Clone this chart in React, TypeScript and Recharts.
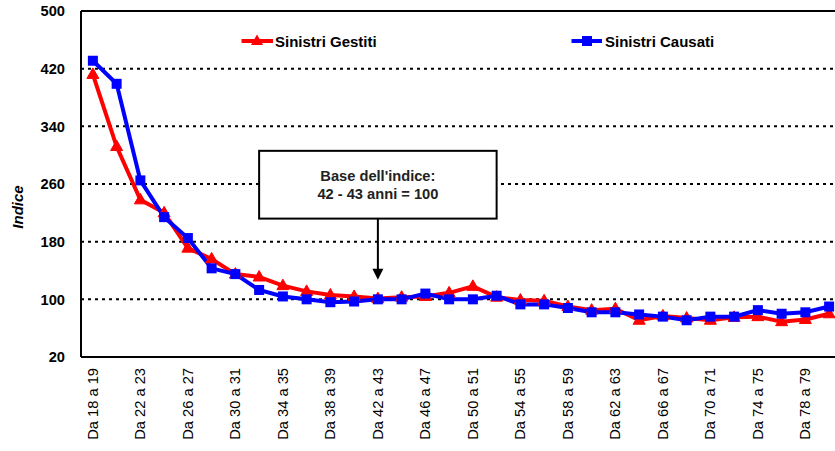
import React from 'react';
import { LineChart, Line, XAxis, YAxis, CartesianGrid, Legend, ReferenceLine } from 'recharts';

const categories = [
  'Da 18 a 19', 'Da 20 a 21', 'Da 22 a 23', 'Da 24 a 25', 'Da 26 a 27', 'Da 28 a 29',
  'Da 30 a 31', 'Da 32 a 33', 'Da 34 a 35', 'Da 36 a 37', 'Da 38 a 39', 'Da 40 a 41',
  'Da 42 a 43', 'Da 44 a 45', 'Da 46 a 47', 'Da 48 a 49', 'Da 50 a 51', 'Da 52 a 53',
  'Da 54 a 55', 'Da 56 a 57', 'Da 58 a 59', 'Da 60 a 61', 'Da 62 a 63', 'Da 64 a 65',
  'Da 66 a 67', 'Da 68 a 69', 'Da 70 a 71', 'Da 72 a 73', 'Da 74 a 75', 'Da 76 a 77',
  'Da 78 a 79', 'Da 80 a 81',
];

const sinistriGestiti = [
  412, 312, 238, 220, 171, 156, 135, 131, 119, 111, 106, 104,
  101, 103, 104, 109, 118, 103, 99, 98, 90, 85, 87, 71,
  77, 74, 71, 75, 76, 69, 72, 80,
];

const sinistriCausati = [
  431, 399, 265, 214, 185, 143, 135, 113, 104, 100, 96, 97,
  100, 100, 108, 100, 100, 105, 93, 93, 88, 82, 82, 79,
  76, 71, 76, 76, 85, 80, 82, 90,
];

const yTicks = [20, 100, 180, 260, 340, 420, 500];
const seriesNames = ['Sinistri Gestiti', 'Sinistri Causati'];
const annotationLines = ["Base dell'indice:", '42 - 43 anni = 100'];
const baseCategory = 'Da 42 a 43';
const boxFrom = 'Da 32 a 33';
const boxTo = 'Da 52 a 53';

const data = categories.map((c, i) => ({
  cat: c,
  gestiti: sinistriGestiti[i],
  causati: sinistriCausati[i],
}));

const FONT = '"Liberation Sans", Arial, Helvetica, sans-serif';
const RED = '#FF0000';
const BLUE = '#0000FF';

const TriangleDot = (props: any) => {
  const { cx, cy } = props;
  if (cx == null || cy == null) return null;
  return (
    <polygon
      points={`${cx},${cy - 6.5} ${cx - 6},${cy + 4} ${cx + 6},${cy + 4}`}
      fill={RED}
      stroke={RED}
      strokeWidth={1}
    />
  );
};

const SquareDot = (props: any) => {
  const { cx, cy } = props;
  if (cx == null || cy == null) return null;
  return <rect x={cx - 5} y={cy - 5} width={10} height={10} fill={BLUE} />;
};

const XTick = (props: any) => {
  const { x, y, payload } = props;
  return (
    <text
      x={x}
      y={y}
      transform={`rotate(-90 ${x} ${y})`}
      textAnchor="end"
      dominantBaseline="central"
      fontSize={14.67}
      fontFamily={FONT}
      fill="#000"
    >
      {payload.value}
    </text>
  );
};

const LegendBox = () => (
  <div style={{ position: 'relative', width: 850, height: 60, fontFamily: FONT }}>
    <svg style={{ position: 'absolute', left: 240, top: 34 }} width={36} height={14}>
      <line x1={1.5} y1={7} x2={33} y2={7} stroke={RED} strokeWidth={4} />
      <polygon points="17,0.5 11,11 23,11" fill={RED} />
    </svg>
    <span
      style={{
        position: 'absolute', left: 275, top: 33, fontSize: 15, fontWeight: 'bold',
        lineHeight: '18px', whiteSpace: 'nowrap', color: '#000',
      }}
    >
      {seriesNames[0]}
    </span>
    <svg style={{ position: 'absolute', left: 570, top: 34 }} width={36} height={14}>
      <line x1={1.5} y1={7} x2={32} y2={7} stroke={BLUE} strokeWidth={4} />
      <rect x={12} y={2} width={10} height={10} fill={BLUE} />
    </svg>
    <span
      style={{
        position: 'absolute', left: 605, top: 33, fontSize: 15, fontWeight: 'bold',
        lineHeight: '18px', whiteSpace: 'nowrap', color: '#000',
      }}
    >
      {seriesNames[1]}
    </span>
  </div>
);

const AnnotationShape = (props: any) => {
  const { x1, y1, x2, y2 } = props;
  const left = Math.min(x1, x2);
  const top = Math.min(y1, y2);
  const w = Math.abs(x2 - x1);
  const h = Math.abs(y2 - y1);
  const cx = left + w / 2;
  const cy = top + h / 2;
  return (
    <g>
      <rect x={left} y={top} width={w} height={h} fill="#fff" stroke="#000" strokeWidth={2} />
      <text x={cx} y={cy - 9} textAnchor="middle" dominantBaseline="central" fontSize={14.67}
        fontWeight="bold" fontFamily={FONT} fill="#222">
        {annotationLines[0]}
      </text>
      <text x={cx} y={cy + 9} textAnchor="middle" dominantBaseline="central" fontSize={14.67}
        fontWeight="bold" fontFamily={FONT} fill="#222">
        {annotationLines[1]}
      </text>
    </g>
  );
};

const ArrowShape = (props: any) => {
  const { x1, y1, y2 } = props;
  const top = Math.min(y1, y2);
  const bottom = Math.max(y1, y2);
  const x = x1;
  return (
    <g>
      <line x1={x} y1={top} x2={x} y2={bottom - 9} stroke="#000" strokeWidth={2} />
      <polygon points={`${x - 5.5},${bottom - 11} ${x + 5.5},${bottom - 11} ${x},${bottom}`} fill="#000" />
    </g>
  );
};

export default function App() {
  return (
    <div style={{ position: 'fixed', left: 0, top: 0, width: 835, height: 451, overflow: 'hidden', background: '#fff' }}>
      <LineChart
        width={850}
        height={451}
        data={data}
        margin={{ top: 11, right: 9, bottom: 0, left: 0 }}
      >
        <CartesianGrid
          vertical={false}
          stroke="#000"
          strokeWidth={2}
          strokeDasharray="3 4"
        />
        <XAxis
          dataKey="cat"
          interval={1}
          height={94}
          padding={{ left: 11.875, right: 11.875 }}
          tick={<XTick />}
          tickLine={false}
          tickSize={0}
          tickMargin={11}
          axisLine={{ stroke: '#000', strokeWidth: 2 }}
        />
        <YAxis
          width={81}
          domain={[20, 500]}
          ticks={yTicks}
          allowDataOverflow
          tickLine={false}
          tickSize={0}
          tickMargin={16}
          axisLine={{ stroke: '#000', strokeWidth: 2 }}
          tick={{ fontSize: 14.67, fontWeight: 'bold', fill: '#000', fontFamily: FONT }}
          label={{
            content: () => (
              <text
                x={17}
                y={207}
                transform="rotate(-90 17 207)"
                textAnchor="middle"
                dominantBaseline="central"
                fontSize={15}
                fontWeight="bold"
                fontStyle="italic"
                fontFamily={FONT}
                fill="#000"
              >
                Indice
              </text>
            ),
          }}
        />
        <ReferenceLine y={500} stroke="#000" strokeWidth={2} ifOverflow="visible" />
        <ReferenceLine
          ifOverflow="visible"
          segment={[{ x: boxFrom, y: 306 }, { x: boxTo, y: 212 }]}
          shape={<AnnotationShape />}
        />
        <ReferenceLine
          ifOverflow="visible"
          segment={[{ x: baseCategory, y: 212 }, { x: baseCategory, y: 127 }]}
          shape={<ArrowShape />}
        />
        <Legend
          layout="horizontal"
          verticalAlign="middle"
          align="center"
          wrapperStyle={{ left: 0, top: 0, width: 850, height: 60 }}
          content={() => <LegendBox />}
        />
        <Line
          type="linear"
          dataKey="gestiti"
          name={seriesNames[0]}
          stroke={RED}
          strokeWidth={4}
          dot={<TriangleDot />}
          activeDot={false}
          isAnimationActive={false}
        />
        <Line
          type="linear"
          dataKey="causati"
          name={seriesNames[1]}
          stroke={BLUE}
          strokeWidth={4}
          dot={<SquareDot />}
          activeDot={false}
          isAnimationActive={false}
        />
      </LineChart>
    </div>
  );
}
